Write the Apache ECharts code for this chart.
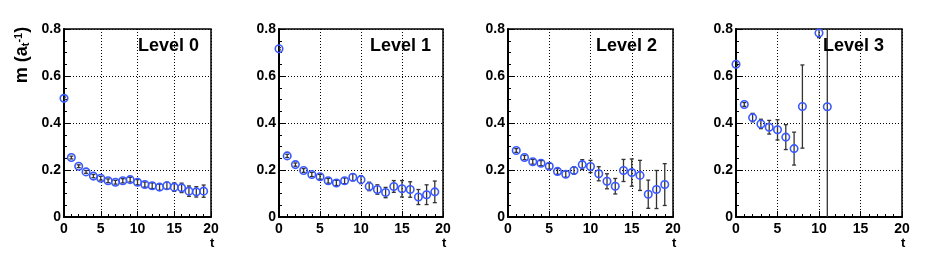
<!DOCTYPE html>
<html>
<head>
<meta charset="utf-8">
<script src="https://cdn.jsdelivr.net/npm/echarts@6/dist/echarts.min.js"></script>
<style>html,body{margin:0;padding:0;background:#fff;}#c{width:926px;height:262px;}</style>
</head>
<body>
<div id="c"></div>
<script>
// ---- data ----
const levelNames = ['Level 0', 'Level 1', 'Level 2', 'Level 3'];
const xTicks = [0, 5, 10, 15, 20];
const yTicks = [0, 0.2, 0.4, 0.6, 0.8];

const t0 = [0,1,2,3,4,5,6,7,8,9,10,11,12,13,14,15,16,17,18,19];
const m0 = [0.505,0.253,0.216,0.192,0.174,0.165,0.154,0.148,0.154,0.159,0.148,0.138,0.133,0.127,0.133,0.127,0.124,0.110,0.107,0.110];
const e0 = [0.005,0.006,0.006,0.006,0.007,0.008,0.008,0.008,0.009,0.010,0.011,0.011,0.012,0.013,0.015,0.018,0.020,0.022,0.022,0.026];

const t1 = [0,1,2,3,4,5,6,7,8,9,10,11,12,13,14,15,16,17,18,19];
const m1 = [0.716,0.260,0.223,0.198,0.181,0.171,0.154,0.145,0.154,0.169,0.159,0.130,0.117,0.104,0.130,0.120,0.117,0.085,0.095,0.107];
const e1 = [0.005,0.007,0.007,0.008,0.009,0.010,0.010,0.011,0.012,0.015,0.017,0.018,0.020,0.022,0.025,0.035,0.033,0.032,0.042,0.046];

const t2 = [1,2,3,4,5,6,7,8,9,10,11,12,13,14,15,16,17,18,19];
const m2 = [0.283,0.253,0.235,0.229,0.216,0.194,0.182,0.198,0.223,0.215,0.184,0.152,0.131,0.198,0.189,0.177,0.097,0.117,0.138];
const e2 = [0.008,0.009,0.010,0.011,0.012,0.012,0.013,0.015,0.021,0.026,0.030,0.032,0.033,0.047,0.058,0.064,0.060,0.081,0.089];

const t3 = [0,1,2,3,4,5,6,7,8,10,11];
const m3 = [0.650,0.479,0.423,0.396,0.382,0.371,0.340,0.291,0.470,0.783,0.469];
const e3 = [0.006,0.008,0.018,0.020,0.029,0.043,0.053,0.070,0.177,0.020,0.900];

const levels = [[t0,m0,e0],[t1,m1,e1],[t2,m2,e2],[t3,m3,e3]];

// ---- layout ----
const grids = [
  {left: 64, width: 147},
  {left: 279, width: 164},
  {left: 508, width: 165},
  {left: 736, width: 166}
];
const labelLeft = [138, 370, 596, 823];
const FONT = '"Liberation Sans", Arial, Helvetica, sans-serif';
const BLUE = '#3a58ff';

function renderErr(params, api) {
  const x = api.value(0), y = api.value(1), e = api.value(2);
  const top = api.coord([x, y + e]);
  const bot = api.coord([x, y - e]);
  const cs = params.coordSys;
  const y1 = Math.max(top[1], cs.y);
  const y2 = Math.min(bot[1], cs.y + cs.height);
  const st = {stroke: '#333', lineWidth: 1.3};
  const ch = [{type: 'line', shape: {x1: top[0], y1: y1, x2: top[0], y2: y2}, style: st}];
  if (top[1] >= cs.y) ch.push({type: 'line', shape: {x1: top[0] - 2, y1: top[1], x2: top[0] + 2, y2: top[1]}, style: st});
  if (bot[1] <= cs.y + cs.height) ch.push({type: 'line', shape: {x1: bot[0] - 2, y1: bot[1], x2: bot[0] + 2, y2: bot[1]}, style: st});
  return {type: 'group', children: ch};
}

const option = {
  backgroundColor: '#fff',
  animation: false,
  grid: grids.map(g => ({left: g.left, width: g.width, top: 29, bottom: 45, show: true, borderColor: '#000', borderWidth: 1.5, backgroundColor: 'transparent'})),
  xAxis: grids.map((g, i) => ({
    type: 'value', gridIndex: i, min: xTicks[0], max: xTicks[xTicks.length - 1], interval: xTicks[1] - xTicks[0],
    axisLine: {show: true, onZero: false, lineStyle: {color: '#000', width: 2}},
    axisTick: {show: true, inside: true, length: 6, lineStyle: {color: '#000'}},
    minorTick: {show: true, splitNumber: 5, length: 3, lineStyle: {color: '#000'}},
    splitLine: {show: true, lineStyle: {color: '#000', type: [1, 2], width: 1}},
    axisLabel: {color: '#000', fontFamily: FONT, fontWeight: 'bold', fontSize: 14, margin: 5, showMinLabel: true, showMaxLabel: true}
  })),
  yAxis: grids.map((g, i) => ({
    type: 'value', gridIndex: i, min: yTicks[0], max: yTicks[yTicks.length - 1], interval: yTicks[1] - yTicks[0],
    axisLine: {show: true, onZero: false, lineStyle: {color: '#000', width: 2}},
    axisTick: {show: true, inside: true, length: 6, lineStyle: {color: '#000'}},
    minorTick: {show: true, splitNumber: 4, length: 3, lineStyle: {color: '#000'}},
    splitLine: {show: true, lineStyle: {color: '#000', type: [1, 2], width: 1}},
    axisLabel: {color: '#000', fontFamily: FONT, fontWeight: 'bold', fontSize: 14, margin: 3,
      formatter: v => (v === 0 ? '0' : v.toFixed(1))}
  })),
  title: levelNames.map((n, i) => ({
    text: n, left: labelLeft[i], top: 37,
    textStyle: {fontFamily: FONT, fontWeight: 'bold', fontSize: 18, color: '#000'}, padding: 0
  })).concat(grids.map(g => ({
    text: 't', left: g.left + g.width - 1, top: 237, padding: 0,
    textStyle: {fontFamily: FONT, fontWeight: 'bold', fontSize: 13, color: '#000'}
  }))),
  graphic: [{
    type: 'text', x: 22, y: 55, rotation: Math.PI / 2,
    style: {
      text: 'm (a{sub|t}{sup|-1})', align: 'center', verticalAlign: 'middle',
      fontFamily: FONT, fontWeight: 'bold', fontSize: 18, fill: '#000',
      rich: {
        sub: {fontFamily: FONT, fontWeight: 'bold', fontSize: 11, verticalAlign: 'bottom', fill: '#000'},
        sup: {fontFamily: FONT, fontWeight: 'bold', fontSize: 11, verticalAlign: 'top', fill: '#000'}
      }
    }
  }],
  series: []
};

levels.forEach((lv, i) => {
  const [ts, ms, es] = lv;
  option.series.push({
    type: 'custom', xAxisIndex: i, yAxisIndex: i, renderItem: renderErr, clip: true,
    data: ts.map((t, k) => [t, ms[k], es[k]]), z: 2
  });
  option.series.push({
    type: 'scatter', xAxisIndex: i, yAxisIndex: i, symbol: 'circle', symbolSize: 7.5,
    itemStyle: {color: 'transparent', borderColor: BLUE, borderWidth: 1.6, opacity: 1},
    data: ts.map((t, k) => [t, ms[k]]), z: 3
  });
});

const chart = echarts.init(document.getElementById('c'), null, {renderer: 'canvas'});
chart.setOption(option);
</script>
</body>
</html>
